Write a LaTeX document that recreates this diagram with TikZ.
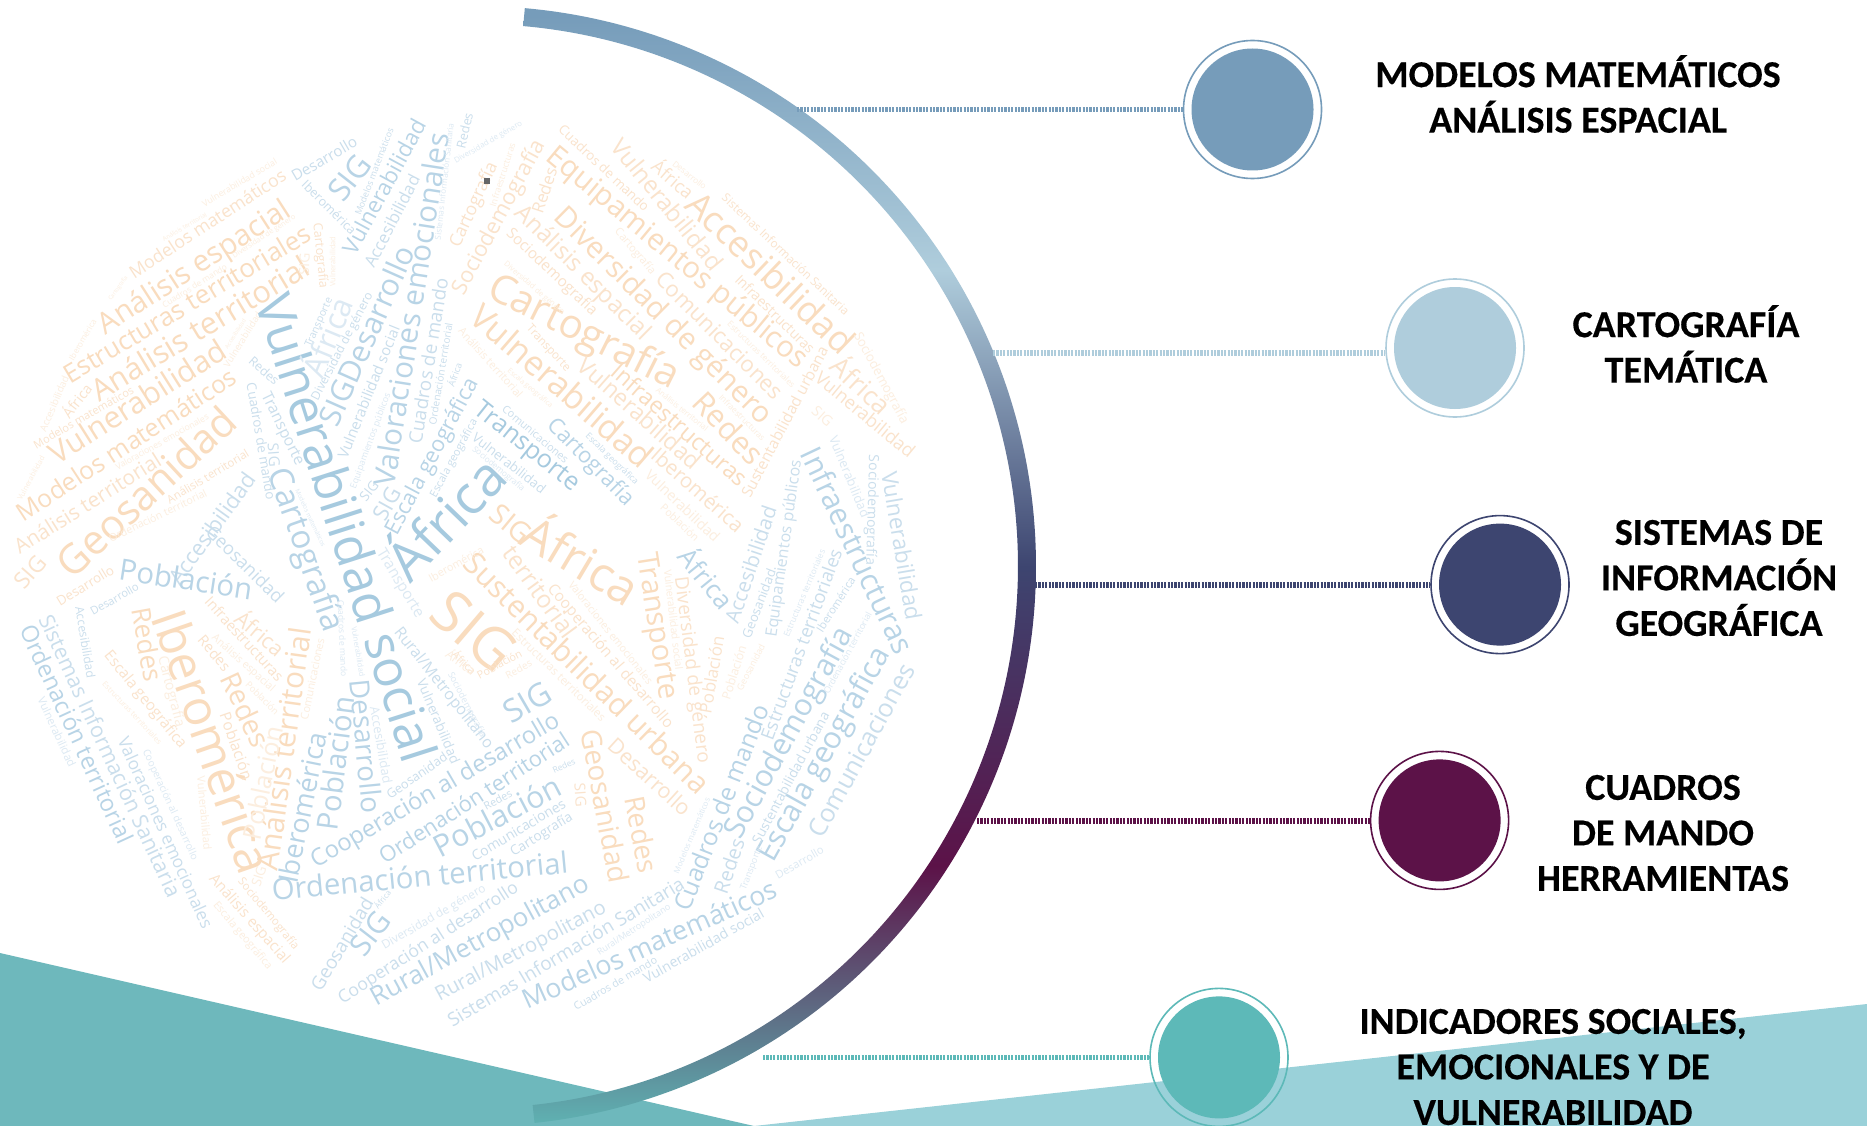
\documentclass[tikz,border=0pt]{standalone}
\usepackage{fontspec}
\setmainfont[BoldFeatures={FakeBold=0.35}]{Carlito}
\newfontfamily\cloudfont{Open Sans}
\definecolor{cA}{HTML}{769CBA}
\definecolor{cB}{HTML}{AFCDDC}
\definecolor{cC}{HTML}{3D4570}
\definecolor{cD}{HTML}{5C1248}
\definecolor{cE}{HTML}{5DB9B8}
\definecolor{cEnd}{HTML}{5FB3B3}
\definecolor{polyL}{HTML}{6EB8BC}
\definecolor{polyR}{HTML}{9AD1D9}
\definecolor{ob}{HTML}{F9DCBE}
\definecolor{om}{HTML}{FAE3CC}
\definecolor{ol}{HTML}{FCEEDF}
\definecolor{bb}{HTML}{A6CADF}
\definecolor{bm}{HTML}{B8D4E6}
\definecolor{bl}{HTML}{CADEEC}
\definecolor{bx}{HTML}{DCE9F3}
\pgfdeclareverticalshading{arcgrad}{100bp}{color(0bp)=(cEnd); color(25bp)=(cEnd); color(36.55bp)=(cD); color(49.85bp)=(cC); color(63bp)=(cB); color(74.3bp)=(cA); color(100bp)=(cA)}
\newlength\wlen
\newcounter{wc}
\tikzset{
  cloudword/.style={anchor=base west,inner sep=0pt,outer sep=0pt},
  dashline/.style={line width=5.5pt,dash pattern=on 2.2pt off 1.2pt},
  ringnode/.style={circle,draw=#1,line width=1.6pt,minimum size=138pt,inner sep=0pt},
  dotnode/.style={circle,fill=#1,minimum size=122pt,inner sep=0pt},
  labelnode/.style={align=center,inner sep=0pt,font=\fontsize{38}{45.5}\selectfont\bfseries,text=black}
}
% colour, start x,y and end x,y of the word's mid line, text
\newcommand\cw[6]{%
  \stepcounter{wc}%
  \settowidth\wlen{\pgfinterruptpicture\cloudfont\fontsize{10}{10}\selectfont #6\endpgfinterruptpicture}%
  \pgfmathsetmacro\cwxa{#2}\pgfmathsetmacro\cwya{#3}%
  \pgfmathsetmacro\cwxb{#4}\pgfmathsetmacro\cwyb{#5}%
  \pgfmathsetmacro\cwang{atan2(\cwya-\cwyb,\cwxb-\cwxa)}%
  \pgfmathsetmacro\cwlen{veclen(\cwxb-\cwxa,\cwyb-\cwya)}%
  \pgfmathsetmacro\cwfs{10*\cwlen/\wlen}%
  \pgfmathsetmacro\cwbx{\cwxa+.27*\cwfs*sin(\cwang)}%
  \pgfmathsetmacro\cwby{\cwya+.27*\cwfs*cos(\cwang)}%
  \node[cloudword,text=#1,rotate=\cwang,font=\cloudfont\fontsize{\cwfs}{\cwfs}\selectfont] (w\thewc) at (\cwbx,\cwby) {#6};%
}
\newcommand\za[6]{\cw{#1}{(#2)/3}{(#3)/3+100}{(#4)/3}{(#5)/3+100}{#6}}
\newcommand\zb[6]{\cw{#1}{(#2)/3+450}{(#3)/3+100}{(#4)/3+450}{(#5)/3+100}{#6}}
\newcommand\zc[6]{\cw{#1}{(#2)/3}{(#3)/3+550}{(#4)/3}{(#5)/3+550}{#6}}
\newcommand\zd[6]{\cw{#1}{(#2)/3+450}{(#3)/3+550}{(#4)/3+450}{(#5)/3+550}{#6}}
\begin{document}
\begin{tikzpicture}[x=1pt,y=-1pt]
\useasboundingbox (0,0) rectangle (1867,1126);
\fill[white] (0,0) rectangle (1867,1126);
% background wedges
\fill[polyR] (754,1126) -- (1867,1004) -- (1867,1126) -- cycle;
\fill[polyL] (0,953) -- (754,1126) -- (0,1126) -- cycle;
% word cloud : orange, upper left
\za{ol}{610}{315}{830}{185}{Vulnerabilidad social}
\za{om}{395}{525}{855}{225}{Modelos matemáticos}
\za{ob}{305}{685}{865}{325}{Análisis espacial}
\za{ob}{200}{835}{930}{400}{Estructuras territoriales}
\za{ob}{285}{885}{925}{500}{Análisis territorial}
\za{ob}{160}{1075}{675}{750}{Vulnerabilidad}
\za{ob}{60}{1250}{705}{830}{Modelos matemáticos}
\cw{ob}{65}{572}{232}{417}{Geosanidad}
\cw{om}{17}{550}{160}{460}{Análisis territorial}
\za{om}{105}{1040}{400}{870}{Modelos matemáticos}
\za{ol}{130}{995}{200}{830}{Accesibilidad}
\za{om}{200}{950}{270}{860}{África}
\za{om}{505}{1205}{745}{1060}{Análisis territorial}
\za{ol}{330}{1320}{620}{1180}{Ordenación territorial}
\za{ol}{350}{1105}{625}{950}{Valoraciones emocionales}
\za{om}{950}{370}{970}{565}{Cartografía}
\za{ol}{915}{525}{918}{460}{SIG}
\za{ol}{700}{470}{885}{350}{Diversidad de género}
\za{ol}{490}{420}{620}{345}{Análisis territorial}
\za{ol}{490}{620}{680}{500}{Cuadros de mando}
\za{ol}{680}{800}{780}{640}{Vulnerabilidad}
\za{ol}{680}{745}{735}{660}{Accesibilidad}
\za{ol}{215}{780}{285}{660}{Iberomérica}
\za{ol}{330}{600}{380}{530}{Cartografía}
\za{ol}{60}{1200}{130}{1070}{Vulnerabilidad}
\za{ol}{1000}{560}{1000}{410}{Vulnerabilidad}
% orange, centre top
\zb{ob}{120}{560}{680}{840}{Cartografía}
\zb{ob}{70}{640}{590}{1090}{Vulnerabilidad}
\zb{om}{390}{790}{740}{1100}{Vulnerabilidad}
\zb{ob}{490}{810}{880}{1150}{Infraestructuras}
\zb{ob}{325}{340}{950}{960}{Diversidad de género}
\zb{ob}{300}{160}{1060}{790}{Equipamientos públicos}
\zb{ob}{720}{300}{1190}{750}{Accesibilidad}
\zb{om}{625}{530}{985}{890}{Comunicaciones}
\zb{om}{495}{130}{800}{505}{Vulnerabilidad}
\zb{om}{330}{85}{590}{330}{Cuadros de mando}
\zb{om}{610}{195}{720}{290}{África}
\zb{ol}{670}{190}{765}{265}{Desarrollo}
\zb{om}{820}{290}{1190}{640}{Sistemas Información Sanitaria}
\zb{om}{860}{535}{1085}{755}{Infraestructuras}
\zb{ol}{835}{670}{1030}{860}{Estructuras territoriales}
\zb{om}{1150}{790}{1305}{935}{África}
\zb{om}{1100}{830}{1385}{1065}{Vulnerabilidad}
\zb{ob}{740}{895}{920}{1085}{Redes}
\zb{om}{205}{330}{590}{710}{Análisis espacial}
\zb{om}{175}{395}{435}{640}{Sociodemografía}
\zb{ol}{165}{490}{340}{640}{Diversidad de género}
\zb{om}{25}{580}{270}{125}{Sociodemografía}
\zb{om}{15}{440}{130}{190}{Cartografía}
\zb{om}{265}{340}{310}{205}{Redes}
\zb{om}{890}{1190}{1125}{745}{Sustentabilidad urbana}
\zb{om}{610}{1060}{870}{1290}{Iberomérica}
\zb{ol}{590}{1120}{800}{1320}{Vulnerabilidad}
\zb{ol}{635}{1220}{740}{1320}{Población}
\zb{om}{235}{680}{355}{810}{Transporte}
\zb{ol}{30}{690}{210}{890}{Análisis territorial}
\zb{ol}{500}{390}{610}{520}{Cartografía}
\zb{ol}{1090}{930}{1140}{975}{SIG}
\zb{ol}{1220}{700}{1365}{970}{Sociodemografía}
\zb{ol}{620}{870}{770}{990}{Análisis territorial}
\zb{ol}{175}{810}{305}{920}{Escala geográfica}
\zb{ol}{810}{890}{940}{1020}{Infraestructuras}
\zb{ol}{130}{320}{190}{130}{Infraestructuras}
% orange, centre and lower left
\cw{ob}{437}{606}{505}{664}{SIG}
\cw{ob}{492}{512}{526}{540}{SIG}
\cw{ob}{524}{532}{633}{597}{África}
\cw{ob}{467}{560}{703}{790}{Sustentabilidad urbana}
\zd{om}{170}{0}{360}{260}{territorial}
\zd{om}{300}{110}{660}{530}{Cooperación al desarrollo}
\zd{ol}{360}{100}{600}{400}{Valoraciones emocionales}
\cw{ob}{645}{553}{668}{700}{Transporte}
\zd{om}{690}{80}{760}{640}{Diversidad de género}
\zd{om}{770}{490}{810}{260}{Población}
\zd{ol}{830}{450}{880}{290}{Población}
\zd{ol}{870}{420}{940}{285}{Geosanidad}
\zd{ol}{650}{60}{685}{360}{Vulnerabilidad social}
\zd{ol}{190}{245}{460}{510}{Estructuras territoriales}
\zd{om}{480}{580}{710}{790}{Desarrollo}
\zd{ob}{415}{540}{500}{1000}{Geosanidad}
\zd{ob}{545}{740}{590}{970}{Redes}
\zd{om}{385}{700}{390}{770}{SIG}
\zd{om}{85}{380}{215}{310}{Población}
\zd{ol}{170}{380}{245}{340}{Redes}
\zd{om}{10}{310}{70}{370}{África}
\zc{ob}{490}{190}{760}{970}{Iberomérica}
\zc{ob}{415}{175}{455}{395}{Redes}
\zc{ob}{680}{375}{780}{590}{Redes}
\zc{ob}{810}{960}{910}{235}{Análisis territorial}
\zc{om}{670}{490}{740}{690}{Población}
\zc{om}{320}{310}{550}{590}{Escala geográfica}
\zc{om}{620}{150}{840}{390}{Infraestructuras}
\zc{ol}{640}{260}{820}{420}{Análisis espacial}
\zc{om}{710}{200}{840}{310}{África}
\zc{om}{600}{265}{680}{360}{Redes}
\zc{ol}{485}{320}{540}{530}{Cartografía}
\zc{ol}{915}{510}{965}{265}{Comunicaciones}
\zc{ol}{740}{400}{830}{490}{Población}
\zc{om}{635}{980}{860}{1235}{Análisis espacial}
\zc{om}{720}{990}{890}{1195}{Sociodemografía}
\zc{ol}{645}{1060}{810}{1255}{Escala geográfica}
\zc{ol}{770}{1010}{790}{950}{SIG}
\zc{om}{60}{110}{130}{30}{SIG}
\zc{om}{175}{160}{340}{60}{Desarrollo}
\zc{ol}{310}{400}{480}{580}{Estructuras territoriales}
\zc{ol}{1290}{90}{1450}{0}{Iberomérica}
\zc{ol}{1340}{310}{1420}{370}{África}
\zc{ol}{600}{680}{620}{900}{Vulnerabilidad}
\zc{ol}{760}{870}{830}{530}{Población}
% blue, upper left
\cw{bb}{268}{297}{417}{762}{Vulnerabilidad social}
\za{bm}{1010}{295}{1100}{180}{SIG}
\za{bm}{1050}{460}{1265}{65}{Vulnerabilidad}
\za{bl}{1110}{500}{1250}{230}{Accesibilidad}
\za{bl}{880}{235}{1070}{125}{Desarrollo}
\za{bl}{910}{250}{1060}{400}{Iberomérica}
\za{bm}{1160}{1160}{1325}{100}{Valoraciones emocionales}
\za{bm}{990}{975}{1225}{445}{SIGDesarrollo}
\za{bl}{1250}{1030}{1330}{535}{Cuadros de mando}
\za{bl}{1075}{345}{1175}{85}{Modelos matemáticos}
\za{bx}{1315}{420}{1355}{70}{Sistemas Información Sanitaria}
\za{bl}{1385}{145}{1410}{40}{Redes}
\za{bl}{1030}{1075}{1190}{680}{Vulnerabilidad social}
\za{bl}{945}{900}{1110}{580}{Diversidad de género}
\za{bx}{1060}{1165}{1165}{880}{Equipamientos públicos}
\za{bl}{1300}{975}{1350}{670}{Ordenación territorial}
\za{bl}{1355}{860}{1380}{790}{África}
\za{bm}{1175}{1300}{1420}{840}{Escala geográfica}
\za{bl}{1300}{1190}{1425}{960}{Escala geográfica}
\za{bl}{925}{740}{990}{595}{Transporte}
\za{bl}{795}{880}{900}{1095}{Transporte}
\za{bl}{750}{780}{830}{850}{Redes}
\za{bl}{750}{850}{810}{1200}{Cuadros de mando}
\za{bl}{815}{1030}{820}{1100}{SIG}
\za{bx}{890}{1170}{970}{1340}{Modelos matemáticos}
\za{bx}{945}{830}{1040}{600}{África}
\za{bl}{1090}{1200}{1130}{1150}{SIG}
\za{bl}{1140}{1260}{1190}{1170}{SIG}
\cw{bm}{276}{470}{333}{631}{Cartografía}
\cw{bl}{175}{583}{252}{476}{Accesibilidad}
\cw{bl}{208}{530}{280}{601}{Geosanidad}
\cw{bm}{119}{572}{252}{592}{Población}
\cw{bb}{400}{574}{500}{470}{África}
\cw{bb}{477}{407}{577}{487}{Transporte}
\cw{bm}{550}{422}{630}{503}{Cartografía}
\zb{bl}{410}{1005}{560}{1150}{Escala geográfica}
\zb{bl}{160}{925}{350}{1085}{Comunicaciones}
\zb{bl}{70}{1010}{280}{1175}{Vulnerabilidad}
\zb{bx}{70}{1045}{220}{1170}{Sociodemografía}
\zb{bx}{15}{185}{215}{70}{Diversidad de género}
% blue, right side
\cw{bm}{807}{450}{903}{653}{Infraestructuras}
\cw{bl}{887}{472}{912}{620}{Vulnerabilidad}
\cw{bl}{873}{455}{870}{565}{Sociodemografía}
\cw{bx}{832}{437}{865}{517}{Vulnerabilidad}
\cw{bl}{772}{637}{797}{460}{Equipamientos públicos}
\cw{bl}{733}{623}{772}{507}{Accesibilidad}
\cw{bl}{747}{638}{773}{570}{Geosanidad}
\cw{bm}{682}{553}{726}{607}{África}
\cw{bl}{768}{740}{838}{550}{Estructuras territoriales}
\zd{bx}{1010}{260}{1120}{0}{Estructuras territoriales}
\zd{bl}{1110}{245}{1210}{85}{Iberomérica}
\zd{bm}{850}{860}{1190}{240}{Sociodemografía}
\zd{bm}{950}{930}{1300}{300}{Escala geográfica}
\zd{bl}{1100}{860}{1380}{350}{Comunicaciones}
\zd{bm}{700}{1080}{940}{470}{Cuadros de mando}
\zd{bl}{920}{880}{1130}{490}{Sustentabilidad urbana}
\zd{bl}{815}{1030}{870}{870}{Redes}
\zd{bx}{880}{1020}{930}{890}{Transporte}
\zd{bx}{980}{980}{1120}{900}{Desarrollo}
\zd{bx}{1130}{430}{1260}{190}{Ordenación territorial}
% blue, bottom
\zd{bm}{225}{1360}{980}{1020}{Modelos matemáticos}
\zd{bl}{585}{1290}{940}{1090}{Vulnerabilidad social}
\zd{bl}{375}{1375}{620}{1230}{Cuadros de mando}
\zd{bl}{0}{1420}{700}{1000}{Sistemas Información Sanitaria}
\cw{bm}{373}{1000}{588}{883}{Rural/Metropolitano}
\cw{bl}{437}{997}{605}{907}{Rural/Metropolitano}
\cw{bl}{340}{1000}{517}{887}{Cooperación al desarrollo}
\cw{bx}{383}{947}{485}{888}{Diversidad de género}
\cw{bm}{272}{893}{568}{865}{Ordenación territorial}
\cw{bm}{437}{851}{560}{787}{Población}
\zd{bl}{70}{925}{345}{760}{Comunicaciones}
\zd{bl}{185}{910}{365}{800}{Cartografía}
\cw{bm}{382}{860}{568}{740}{Ordenación territorial}
\cw{bm}{313}{863}{558}{720}{Cooperación al desarrollo}
\cw{bm}{507}{717}{550}{692}{SIG}
\cw{bm}{330}{830}{347}{697}{Población}
\cw{bm}{357}{680}{370}{813}{Desarrollo}
\cw{bm}{290}{883}{320}{733}{Iberomérica}
\zc{bl}{1165}{740}{1340}{620}{Geosanidad}
\cw{bl}{397}{630}{490}{747}{Rural/Metropolitano}
\zc{bl}{1260}{390}{1365}{640}{Vulnerabilidad}
\zc{bl}{950}{1320}{1110}{1050}{Geosanidad}
\zc{bm}{1075}{1210}{1160}{1100}{SIG}
\zc{bl}{1130}{1075}{1170}{1025}{África}
\zc{bl}{130}{200}{520}{1040}{Sistemas Información Sanitaria}
\zc{bm}{75}{230}{375}{880}{Ordenación territorial}
\zc{bx}{120}{445}{215}{650}{Vulnerabilidad}
\zc{bl}{365}{565}{620}{1135}{Valoraciones emocionales}
\zc{bx}{435}{600}{585}{930}{Cooperación al desarrollo}
\zc{bl}{235}{170}{270}{385}{Accesibilidad}
\zc{bl}{275}{190}{415}{110}{Desarrollo}
\zc{bx}{1140}{0}{1260}{200}{Transporte}
\zc{bx}{1020}{150}{1030}{380}{Cuadros de mando}
\zc{bx}{1060}{230}{1085}{380}{Vulnerabilidad}
\zc{bx}{1120}{470}{1160}{700}{Accesibilidad}
\zd{bx}{0}{370}{100}{560}{Sociodemografía}
\zd{bl}{310}{665}{375}{635}{Redes}
\zd{bl}{105}{775}{185}{730}{Redes}
\zd{bx}{680}{970}{775}{745}{Modelos matemáticos}
\zd{bx}{445}{1210}{660}{1070}{Rural/Metropolitano}
% small icon
\fill[black!60] (484,178) rectangle (490,184);
% gradient arc
\begin{scope}
  \clip plot[domain=85:-84,samples=240] ({476+560*cos(\x)},{566-560*sin(\x)})
     -- plot[domain=-84:85,samples=240] ({476+542*cos(\x)},{566-542*sin(\x)}) -- cycle;
  \shade[shading=arcgrad] (400,0) rectangle (1100,1126);
\end{scope}
% circles
\node[ringnode=cA] (c1) at (1252.5,109.5) {};
\node[dotnode=cA] (d1) at (c1) {};
\node[ringnode=cB] (c2) at (1455,348) {};
\node[dotnode=cB] (d2) at (c2) {};
\node[ringnode=cC] (c3) at (1500,584.6) {};
\node[dotnode=cC] (d3) at (c3) {};
\node[ringnode=cD] (c4) at (1439.6,820.4) {};
\node[dotnode=cD] (d4) at (c4) {};
\node[ringnode=cE] (c5) at (1219,1057.4) {};
\node[dotnode=cE] (d5) at (c5) {};
% connectors
\coordinate (a1) at (797,109.5);
\coordinate (a2) at (993,353);
\coordinate (a3) at (1035,585);
\coordinate (a4) at (977,821);
\coordinate (a5) at (763,1057.5);
\draw[dashline,cA] (a1) -- (a1 -| c1.west);
\draw[dashline,cB] (a2) -- (a2 -| c2.west);
\draw[dashline,cC] (a3) -- (a3 -| c3.west);
\draw[dashline,cD] (a4) -- (a4 -| c4.west);
\draw[dashline,cE] (a5) -- (a5 -| c5.west);
% labels
\node[labelnode] (t1) at (1578,94) {MODELOS MATEMÁTICOS\\ANÁLISIS ESPACIAL};
\node[labelnode] (t2) at (1686,344) {CARTOGRAFÍA\\TEMÁTICA};
\node[labelnode] (t3) at (1719,578) {SISTEMAS DE\\INFORMACIÓN\\GEOGRÁFICA};
\node[labelnode] (t4) at (1663,833) {CUADROS\\DE MANDO\\HERRAMIENTAS};
\node[labelnode] (t5) at (1553,1067) {INDICADORES SOCIALES,\\EMOCIONALES Y DE\\VULNERABILIDAD};
\end{tikzpicture}
\end{document}
